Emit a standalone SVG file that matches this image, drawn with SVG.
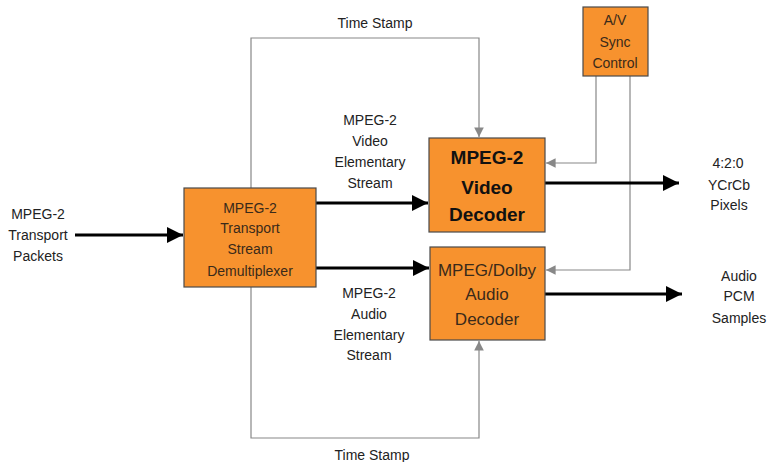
<svg xmlns="http://www.w3.org/2000/svg" width="770" height="462" viewBox="0 0 770 462">
<defs>
<style>
.box{fill:#F7922E;stroke:#4a4a4a;stroke-width:1.2}
.t{font-family:"Liberation Sans",Arial,sans-serif;font-size:14px;fill:#222;text-anchor:middle}
.bt{font-family:"Liberation Sans",Arial,sans-serif;font-size:14px;fill:#3a2a1a;text-anchor:middle}
.big{font-family:"Liberation Sans",Arial,sans-serif;font-size:19px;font-weight:bold;fill:#111;text-anchor:middle}
.mid{font-family:"Liberation Sans",Arial,sans-serif;font-size:17px;fill:#3a2a1a;text-anchor:middle}
.thick{stroke:#000;stroke-width:3;fill:none}
.thin{stroke:#888;stroke-width:1.2;fill:none}
</style>
<marker id="ah" viewBox="0 0 10 10" refX="10" refY="5" markerWidth="5.5" markerHeight="5.5" markerUnits="strokeWidth" orient="auto">
<path d="M0,0 L10,5 L0,10 z" fill="#000"/>
</marker>
<marker id="ag" viewBox="0 0 10 10" refX="10" refY="5" markerWidth="9" markerHeight="8" markerUnits="strokeWidth" orient="auto">
<path d="M0,0 L10,5 L0,10 z" fill="#888"/>
</marker>
</defs>
<rect width="770" height="462" fill="#fff"/>

<g id="connectors">
<path class="thin" d="M251,188 V38 H479 V137" marker-end="url(#ag)"/>
<path class="thin" d="M251,287 V438 H479 V341" marker-end="url(#ag)"/>
<path class="thin" d="M596,76 V163 H546" marker-end="url(#ag)"/>
<path class="thin" d="M630,76 V270 H546" marker-end="url(#ag)"/>
<path class="thick" d="M75,235 H183" marker-end="url(#ah)"/>
<path class="thick" d="M316,203 H428" marker-end="url(#ah)"/>
<path class="thick" d="M316,268 H429" marker-end="url(#ah)"/>
<path class="thick" d="M545,183 H679" marker-end="url(#ah)"/>
<path class="thick" d="M545,294 H682" marker-end="url(#ah)"/>
</g>

<g id="label-timestamp-top"><text class="t" x="375" y="28">Time Stamp</text></g>
<g id="label-timestamp-bottom"><text class="t" x="372" y="460">Time Stamp</text></g>
<g id="label-video-es">
<text class="t" x="370" y="125">MPEG-2</text>
<text class="t" x="370" y="146">Video</text>
<text class="t" x="370" y="167">Elementary</text>
<text class="t" x="370" y="188">Stream</text>
</g>
<g id="label-audio-es">
<text class="t" x="369" y="298">MPEG-2</text>
<text class="t" x="369" y="319">Audio</text>
<text class="t" x="369" y="340">Elementary</text>
<text class="t" x="369" y="360">Stream</text>
</g>
<g id="label-input">
<text class="t" x="38" y="219">MPEG-2</text>
<text class="t" x="38" y="240">Transport</text>
<text class="t" x="38" y="261">Packets</text>
</g>
<g id="label-pixels">
<text class="t" x="728" y="168">4:2:0</text>
<text class="t" x="729" y="190">YCrCb</text>
<text class="t" x="729" y="210">Pixels</text>
</g>
<g id="label-pcm">
<text class="t" x="739" y="281">Audio</text>
<text class="t" x="739" y="301">PCM</text>
<text class="t" x="739" y="323">Samples</text>
</g>

<g id="demux">
<rect class="box" x="184" y="188" width="132" height="99"/>
<text class="bt" x="250" y="213">MPEG-2</text>
<text class="bt" x="250" y="233">Transport</text>
<text class="bt" x="250" y="254">Stream</text>
<text class="bt" x="250" y="276">Demultiplexer</text>
</g>
<g id="video-decoder">
<rect class="box" x="429" y="138" width="116" height="94"/>
<text class="big" x="487" y="164">MPEG-2</text>
<text class="big" x="487" y="194">Video</text>
<text class="big" x="487" y="221">Decoder</text>
</g>
<g id="audio-decoder">
<rect class="box" x="430" y="247" width="115" height="93"/>
<text class="mid" x="487" y="276">MPEG/Dolby</text>
<text class="mid" x="487" y="300">Audio</text>
<text class="mid" x="487" y="325">Decoder</text>
</g>
<g id="av-sync">
<rect class="box" x="583" y="7" width="65" height="69"/>
<text class="bt" x="615" y="25">A/V</text>
<text class="bt" x="615" y="47">Sync</text>
<text class="bt" x="615" y="68">Control</text>
</g>
</svg>
